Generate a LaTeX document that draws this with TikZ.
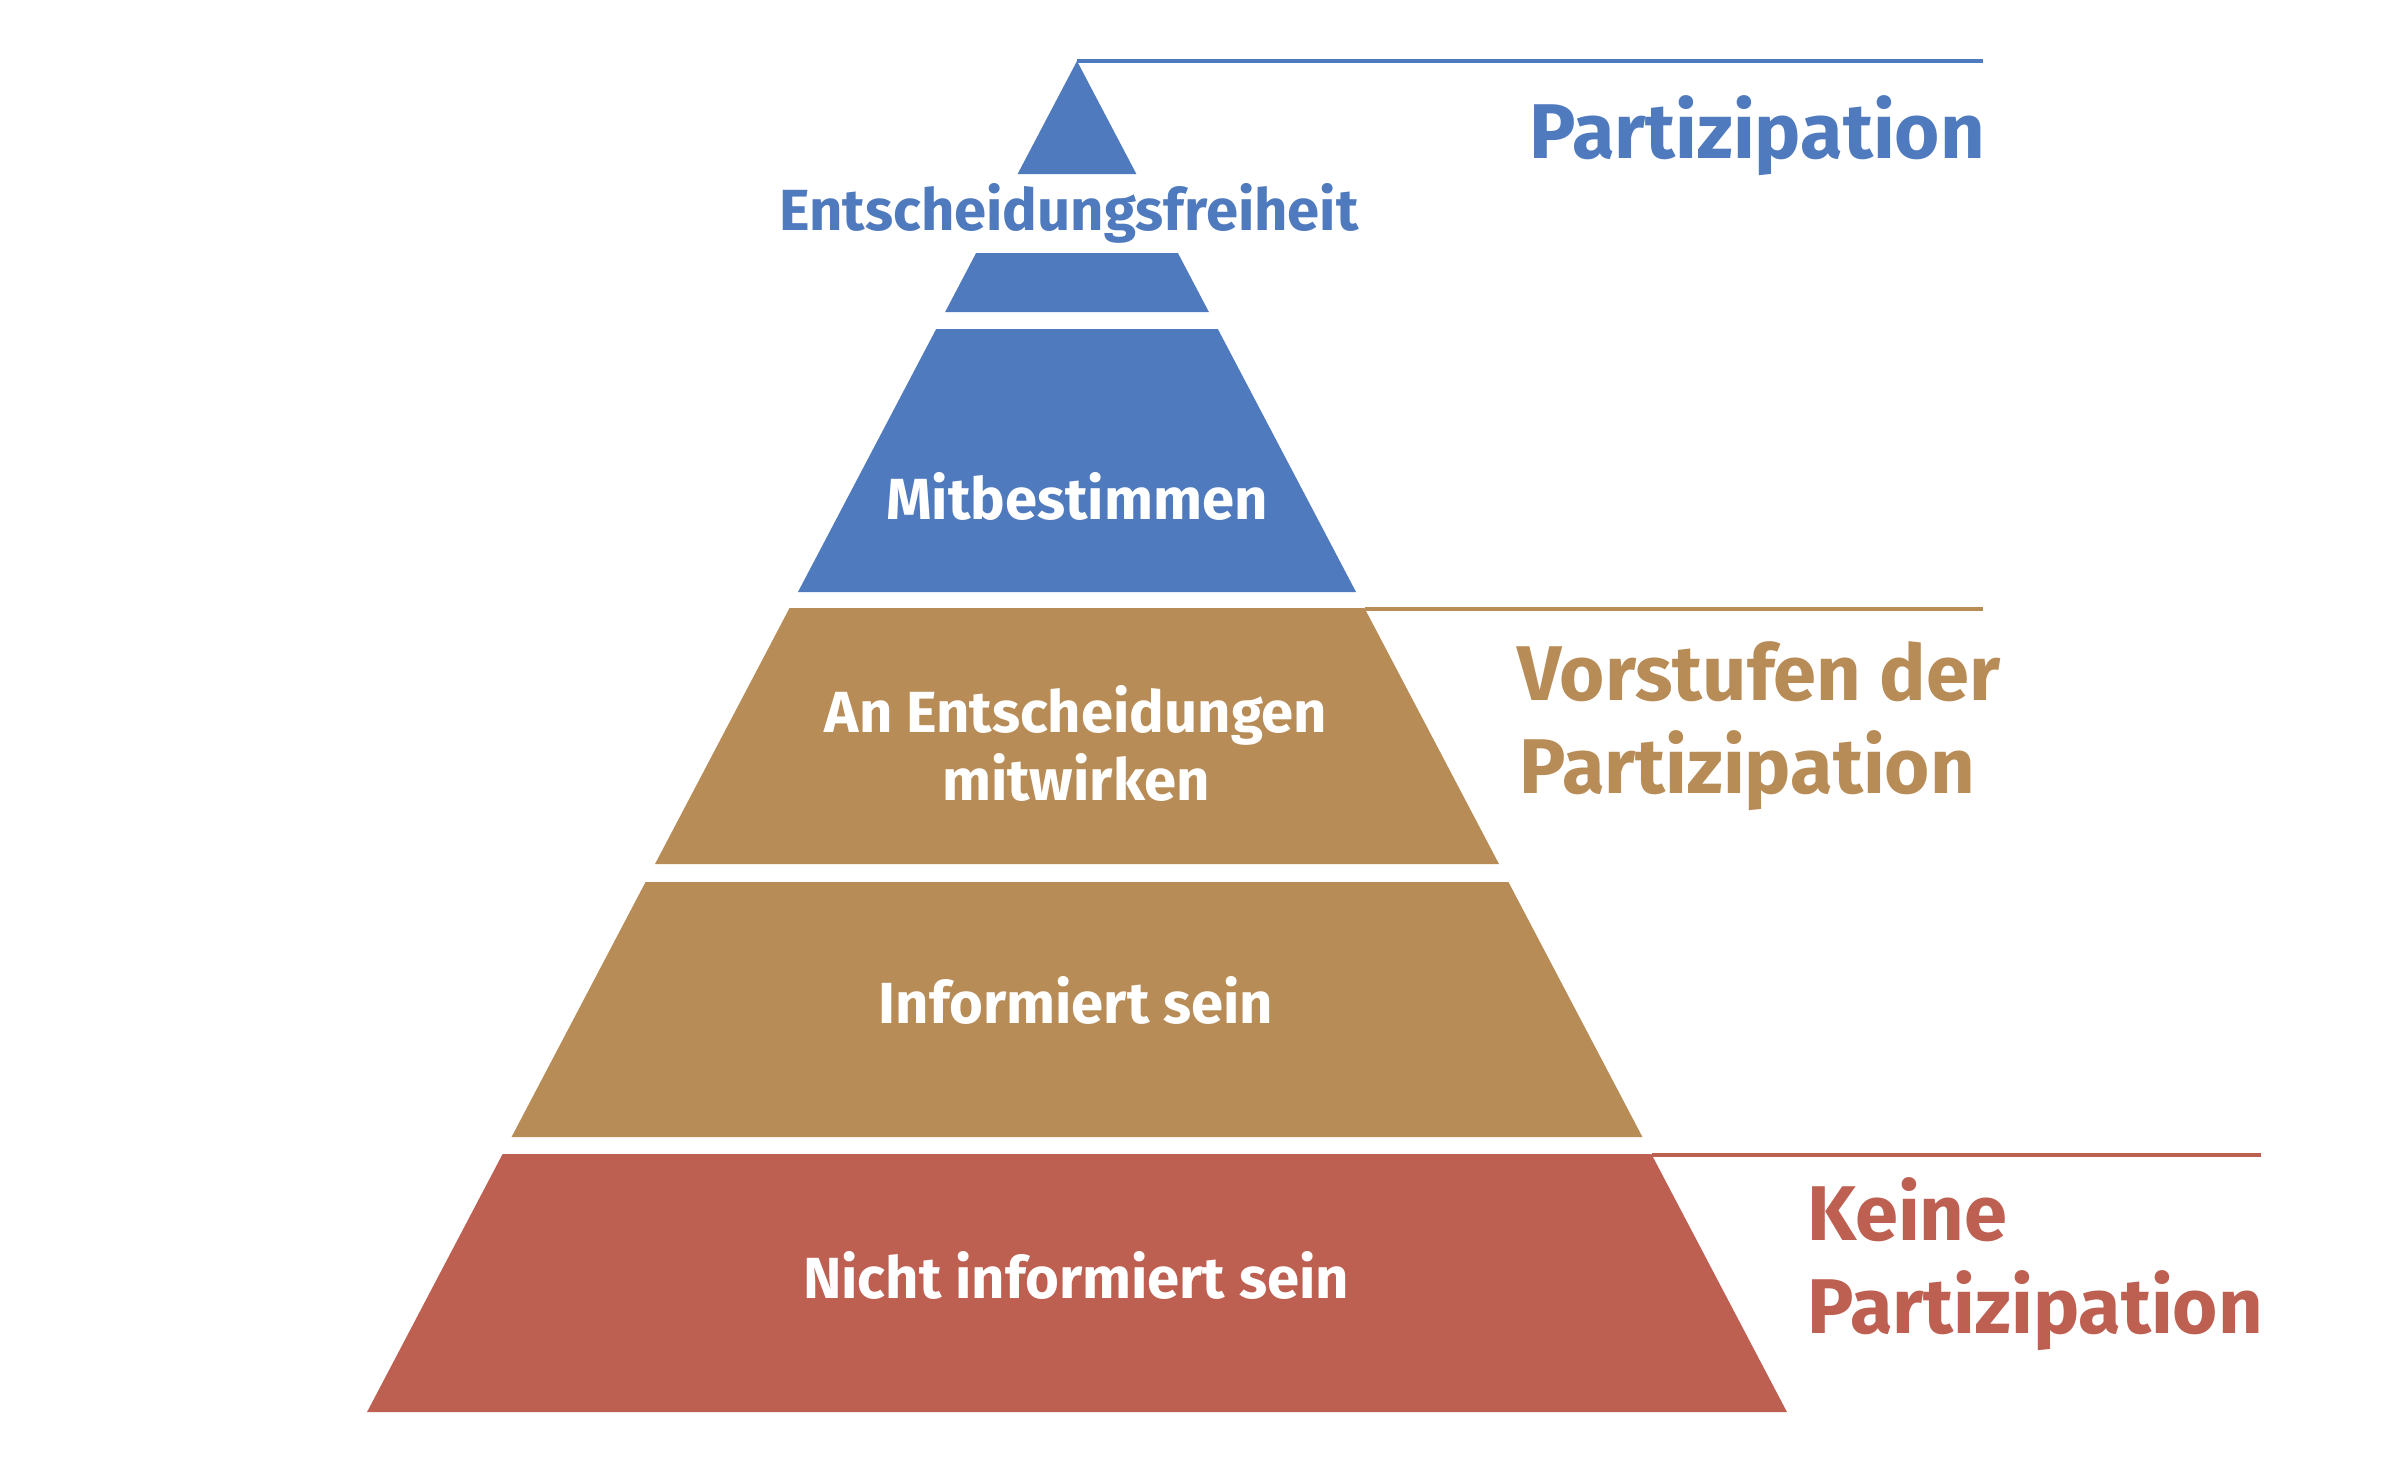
\documentclass[tikz,border=0pt]{standalone}
\usepackage{fontspec}
\setmainfont{Fira Sans}
\begin{document}
\begin{tikzpicture}[x=0.5pt,y=-0.5pt]
\definecolor{cblue}{RGB}{79,122,189}
\definecolor{ctan}{RGB}{184,140,87}
\definecolor{cred}{RGB}{189,95,81}
\tikzset{
  inlabel/.style={font=\fontsize{29}{34}\selectfont\bfseries, text=white, anchor=base, inner sep=0pt, align=center},
  sidelabel/.style={font=\fontsize{38.8}{46}\selectfont\bfseries, anchor=base west, inner sep=0pt},
  rule/.style={line width=1.8pt}
}
\useasboundingbox (0,0) rectangle (2400,1469);
\fill[white] (0,0) rectangle (2400,1469);
% pyramid bands: center 1077, apex y 61, slope 0.5255
\def\cx{1077}\def\ay{61}\def\sl{0.5255}
\newcommand\pyrband[3]{%
  \fill[#3] ({\cx-\sl*(#1-\ay)},#1) -- ({\cx+\sl*(#1-\ay)},#1) -- ({\cx+\sl*(#2-\ay)},#2) -- ({\cx-\sl*(#2-\ay)},#2) -- cycle;}
\fill[cblue] (\cx,\ay) -- ({\cx+\sl*(174-\ay)},174) -- ({\cx-\sl*(174-\ay)},174) -- cycle;
\pyrband{253}{312}{cblue}
\pyrband{329}{592}{cblue}
\pyrband{608}{864}{ctan}
\pyrband{882}{1137}{ctan}
\pyrband{1154}{1412}{cred}
% rule coordinates
\coordinate (apex) at (\cx,\ay);
\coordinate (blueend) at (1983,61);
\coordinate (tanstart) at ({\cx+\sl*(609-\ay)},609);
\coordinate (tanend) at (1983,609);
\coordinate (redstart) at ({\cx+\sl*(1155-\ay)},1155);
\coordinate (redend) at (2261,1155);
\draw[rule, cblue] (apex) -- (blueend);
\draw[rule, ctan] (tanstart) -- (tanend);
\draw[rule, cred] (redstart) -- (redend);
% inner labels
\node[inlabel, text=cblue] (freiheit) at (1069,230) {Entscheidungsfreiheit};
\node[inlabel] (mitbest) at (1077,519) {Mitbestimmen};
\node[inlabel] (mitwirk1) at (1076,732) {An Entscheidungen};
\node[inlabel] (mitwirk2) at (1076,800) {mitwirken};
\node[inlabel] (informiert) at (1076,1023) {Informiert sein};
\node[inlabel] (nicht) at (1076,1298) {Nicht informiert sein};
% side labels
\node[sidelabel, text=cblue] (part) at (1529,158) {Partizipation};
\node[sidelabel, text=ctan] (vor1) at (1517,700) {Vorstufen der};
\node[sidelabel, text=ctan] (vor2) at (1519,793) {Partizipation};
\node[sidelabel, text=cred] (keine1) at (1807,1240) {Keine};
\node[sidelabel, text=cred] (keine2) at (1807,1333) {Partizipation};
\end{tikzpicture}
\end{document}
